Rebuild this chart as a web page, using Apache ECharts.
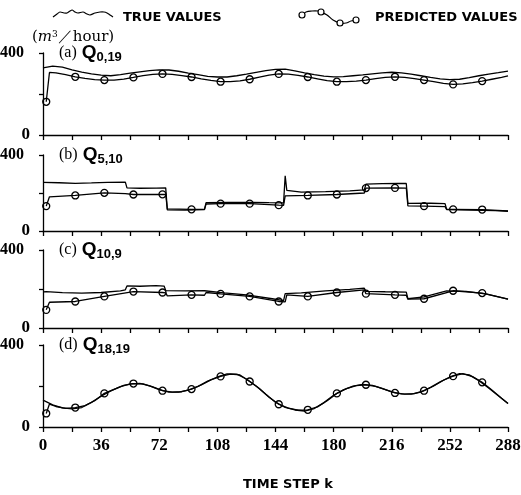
<!DOCTYPE html>
<html>
<head>
<meta charset="utf-8">
<script src="https://cdn.jsdelivr.net/npm/echarts@6/dist/echarts.min.js"></script>
<style>
html,body{margin:0;padding:0;background:#fff;}
#chart{width:521px;height:495px;}
</style>
</head>
<body>
<div id="chart"></div>
<script>
// ---------- DATA ----------
const kTrue = [0,6,12,18,24,30,36,42,48,54,60,66,72,78,84,90,96,102,108,114,120,126,132,138,144,150,156,162,168,174,180,186,192,198,204,210,216,222,228,234,240,246,252,258,264,270,276,282,288];
const kPred = [2,4,8,14,20,26,32,38,44,50,56,62,68,74,80,86,92,98,104,110,116,122,128,134,140,146,152,158,164,170,176,182,188,194,200,206,212,218,224,230,236,242,248,254,260,266,272,278,284,288];
const markerK = [2,20,38,56,74,92,110,128,146,164,182,200,218,236,254,272];

// (a) Q0,19
const trueA = [327,336,331,318,307,298,292,289,295,302,308,314,318,317,311,302,294,286,283,283,289,297,306,314,320,321,313,303,294,287,284,285,289,293,298,303,306,303,297,289,281,274,270,272,280,289,297,304,312];
const predA = [162,305,303,294,284,276,270,268,268,273,281,290,296,298,296,290,283,274,266,260,260,264,272,282,292,298,297,291,283,274,265,260,260,263,268,275,281,284,281,275,268,260,252,247,249,255,263,272,281,288];

// (b) Q5,10
const kTrueB = [0,10,20,30,40,51,52,60,70,76,77,88,100,101,115,130,140,149,150,151,160,175,190,199,200,210,220,225,226,240,249,250,265,280,288];
const trueB  = [256,254,251,253,256,257,227,225,226,227,111,110,112,149,150,151,149,148,290,214,205,207,211,216,247,249,251,250,145,146,144,113,110,107,104];
const kPredB = [2,4,20,38,51,52,56,74,76,77,92,100,101,110,128,146,149,150,164,182,199,200,218,225,226,236,249,250,254,272,288];
const predB  = [131,180,187,201,197,193,192,193,192,116,114,114,142,144,144,136,135,185,187,192,200,226,227,226,132,131,128,114,114,113,106];

// (c) Q10,9
const kTrueC = [0,2,12,24,36,48,51,52,60,70,75,76,88,100,101,112,126,142,149,150,160,175,190,199,200,212,225,226,236,250,262,275,288];
const trueC  = [185,187,181,179,182,190,196,216,214,217,215,192,190,191,187,180,170,150,140,176,180,190,198,204,188,186,184,150,160,190,188,174,148];
const kPredC = [2,4,20,38,56,74,76,77,92,100,101,110,128,146,150,151,164,182,199,200,218,225,226,236,254,272,288];
const predC  = [93,132,136,162,187,182,180,165,170,168,182,175,162,136,134,170,162,182,196,176,170,168,148,150,191,179,148];

// (d) Q18,19
const trueD = [131,108,93,88,95,120,150,176,197,210,213,201,182,170,170,180,198,224,244,259,258,234,200,160,121,96,83,78,90,119,155,181,199,208,203,188,171,162,160,170,193,220,244,260,254,226,190,152,115];
const predD = [66,112,100,91,95,104,128,164,184,203,212,210,196,177,170,172,185,205,230,247,258,254,222,188,145,111,92,82,84,98,128,164,187,202,206,198,182,166,160,163,177,200,228,248,260,246,218,180,140,115];

const xLabelTicks = [0,36,72,108,144,180,216,252,288];
const yLabelTicks = [0,400];
const panelTags = ['(a)','(b)','(c)','(d)'];
const panelSubs = ['0,19','5,10','10,9','18,19'];

// ---------- BUILD ----------
const zip = (k, v) => k.map((x, i) => [x, v[i]]);
const panels = [
  {t: zip(kTrue, trueA), p: zip(kPred, predA)},
  {t: zip(kTrueB, trueB), p: zip(kPredB, predB)},
  {t: zip(kTrueC, trueC), p: zip(kPredC, predC)},
  {t: zip(kTrue, trueD), p: zip(kPred, predD)}
];
const gridPos = [{top:53,height:82},{top:155,height:76},{top:250,height:78},{top:345,height:82}];
const numFont = {fontFamily:'Liberation Sans Narrow', fontWeight:'bold', fontSize:17, color:'#000'};

const grid = gridPos.map(g => ({left:43, right:13, top:g.top, height:g.height, containLabel:false, outerBoundsMode:'none'}));
const xAxis = gridPos.map((g, i) => ({
  type:'value', gridIndex:i, min:0, max:288, interval:18,
  axisLine:{lineStyle:{color:'#000', width:1.3}},
  axisTick:{show:true, length:5, lineStyle:{color:'#000', width:1.3}},
  splitLine:{show:false},
  axisLabel:{show:i===3, margin:10, ...numFont,
    formatter:v => xLabelTicks.includes(v) ? String(v) : ''}
}));
const yAxis = gridPos.map((g, i) => ({
  type:'value', gridIndex:i, min:0, max:400, interval:200,
  axisLine:{show:true, lineStyle:{color:'#000', width:1.3}},
  axisTick:{show:true, length:4, lineStyle:{color:'#000', width:1.3}},
  splitLine:{show:false},
  axisLabel:{margin:13, ...numFont,
    formatter:v => v === 400 ? '{w|400}' : (yLabelTicks.includes(v) ? String(v) : ''),
    rich:{w:{...numFont, fontSize:16, padding:[0,6,0,0]}}}
}));
const series = [];
panels.forEach((pn, i) => {
  series.push({
    type:'line', xAxisIndex:i, yAxisIndex:i, data:pn.t, showSymbol:false,
    lineStyle:{color:'#000', width:1.3}, animation:false, silent:true
  });
  series.push({
    type:'line', xAxisIndex:i, yAxisIndex:i, data:pn.p, showAllSymbol:true,
    symbol:'circle', symbolSize:v => markerK.includes(v[0]) ? 7 : 0,
    itemStyle:{color:'rgba(255,255,255,0)', borderColor:'#000', borderWidth:1.3},
    lineStyle:{color:'#000', width:1.3}, animation:false, silent:true
  });
});

const title = gridPos.map((g, i) => ({
  left:54, top:g.top - 15,
  text:'{p|' + panelTags[i] + '} {q|Q}{s|' + panelSubs[i] + '}',
  textStyle:{fontWeight:'normal', rich:{
    p:{fontFamily:'Liberation Serif', fontWeight:'normal', fontSize:16, color:'#000', verticalAlign:'bottom', padding:[0,0,1,0]},
    q:{fontFamily:'Liberation Sans', fontWeight:'bold', fontSize:19, color:'#000', verticalAlign:'bottom'},
    s:{fontFamily:'Liberation Sans', fontWeight:'bold', fontSize:13, color:'#000', verticalAlign:'bottom', padding:[0,0,-2,0]}
  }}
}));

const graphic = [
  {type:'polyline', silent:true, shape:{points:[[53,17],[57,14],[60,12],[64,13],[67,13],[72,10],[75,12],[78,13],[83,12],[87,14],[90,15],[95,13],[100,12],[104,12],[107,13],[110,15],[113,17]], smooth:0.3},
   style:{stroke:'#000', lineWidth:1.2, fill:null}},
  {type:'text', left:123, top:11, style:{text:'TRUE VALUES', font:'bold 13px "DejaVu Sans"', fill:'#000'}},
  {type:'polyline', silent:true, shape:{points:[[302,15],[306,12],[312,11],[318,11],[321,12],[327,15],[333,20],[340,23],[346,23],[351,21],[356,20]], smooth:0.4},
   style:{stroke:'#000', lineWidth:1.2, fill:null}},
  {type:'circle', shape:{cx:302, cy:15, r:3}, style:{fill:'#fff', stroke:'#000', lineWidth:1.2}},
  {type:'circle', shape:{cx:321, cy:12, r:3}, style:{fill:'#fff', stroke:'#000', lineWidth:1.2}},
  {type:'circle', shape:{cx:340, cy:23, r:3}, style:{fill:'#fff', stroke:'#000', lineWidth:1.2}},
  {type:'circle', shape:{cx:356, cy:20, r:3}, style:{fill:'#fff', stroke:'#000', lineWidth:1.2}},
  {type:'text', left:375, top:11, style:{text:'PREDICTED VALUES', font:'bold 13px "DejaVu Sans"', fill:'#000'}},
  {type:'text', left:32, top:30, style:{
    text:'{a|(}{m|m}{sup|3}{a|／hour)}',
    rich:{
      a:{fontFamily:'DejaVu Serif', fontSize:15, fill:'#000'},
      m:{fontFamily:'DejaVu Serif', fontStyle:'italic', fontSize:15, fill:'#000'},
      sup:{fontFamily:'DejaVu Serif', fontSize:9, fill:'#000', verticalAlign:'top'}
    }}},
  {type:'text', left:243, top:478, style:{text:'TIME STEP k', font:'bold 13px "DejaVu Sans"', fill:'#000'}}
];

const chart = echarts.init(document.getElementById('chart'), null, {renderer:'canvas'});
chart.setOption({animation:false, backgroundColor:'#fff', grid, xAxis, yAxis, series, title, graphic});
</script>
</body>
</html>
